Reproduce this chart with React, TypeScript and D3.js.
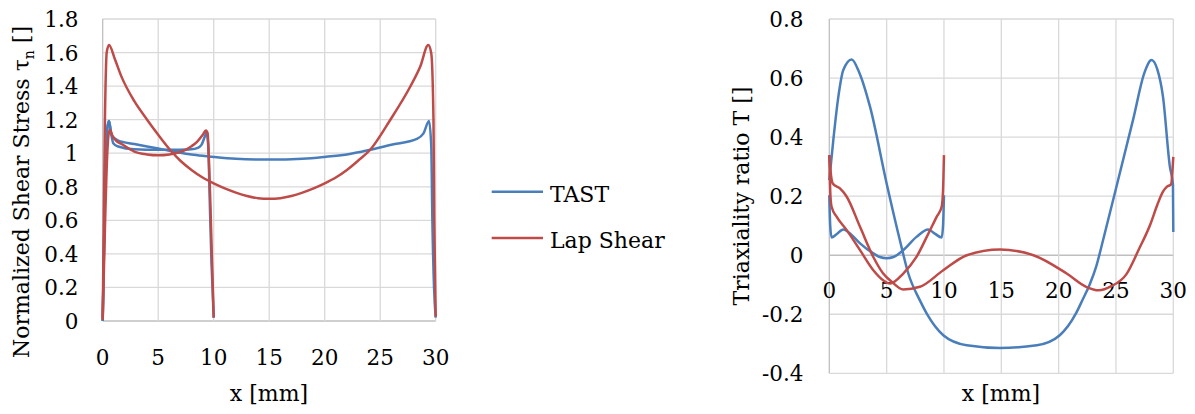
import React from "react";
import * as d3 from "d3";

// ---------- data: Normalized shear stress (left chart) ----------
const shearTast10: [number, number][] = [
  [0, 0], [0.2, 0.75], [0.4, 1.14], [0.57, 1.192], [0.75, 1.12], [0.95, 1.06], [1.4, 1.04],
  [2.85, 1.023], [5, 1.02], [7, 1.02], [8, 1.023], [8.5, 1.03], [8.9, 1.05], [9.2, 1.1],
  [9.35, 1.125], [9.5, 1.05], [9.65, 0.7], [9.8, 0.35], [10, 0.02],
];
const shearTast30: [number, number][] = [
  [0, 0], [0.2, 0.75], [0.4, 1.14], [0.57, 1.192], [0.8, 1.108], [1.4, 1.075], [2.85, 1.055],
  [4, 1.04], [5, 1.028], [6, 1.015], [7, 1.003], [8, 0.993], [9, 0.985], [10, 0.978],
  [12, 0.967], [15, 0.962], [18, 0.967], [20, 0.978], [22, 0.993], [24, 1.019], [26, 1.05],
  [28.3, 1.085], [28.9, 1.118], [29.4, 1.192], [29.6, 1.04], [29.7, 0.6], [29.85, 0.2], [30, 0.02],
];
const shearLap10: [number, number][] = [
  [0, 0.02], [0.2, 0.55], [0.4, 0.98], [0.55, 1.12], [0.66, 1.138], [0.9, 1.1], [1.2, 1.075],
  [1.7, 1.055], [2.85, 1.01], [4, 0.993], [5, 0.988], [6, 0.993], [7, 1.008], [7.5, 1.022],
  [8, 1.042], [8.5, 1.068], [9, 1.108], [9.3, 1.136], [9.45, 1.12], [9.55, 1.0], [9.7, 0.7],
  [9.85, 0.35], [10, 0.02],
];
const shearLap30: [number, number][] = [
  [0, 0.006], [0.2, 1.2], [0.36, 1.6], [0.57, 1.645], [1.1, 1.56], [1.7, 1.455], [2.85, 1.31],
  [4, 1.2], [5, 1.11], [6.2, 1.01], [7, 0.955], [8, 0.9], [9, 0.855], [10, 0.82], [11, 0.79],
  [12, 0.765], [13, 0.745], [14, 0.732], [15, 0.728], [16, 0.732], [17, 0.745], [18, 0.765],
  [19, 0.79], [20, 0.82], [21, 0.855], [22, 0.9], [23, 0.955], [24.08, 1.019], [25.9, 1.198],
  [27.7, 1.396], [28.6, 1.515], [29.33, 1.645], [29.6, 1.595], [29.8, 1.198], [29.87, 0.6],
  [30, 0.026],
];

// ---------- data: Triaxiality ratio (right chart) ----------
const triaxTast10: [number, number][] = [
  [0, 0.203], [0.08, 0.1], [0.2, 0.06], [0.6, 0.07], [1.22, 0.087], [1.9, 0.07], [2.68, 0.04],
  [3.84, 0.006], [4.4, -0.006], [5, -0.01], [5.6, -0.006], [6.45, 0.017], [7.6, 0.062],
  [8.63, 0.087], [9.2, 0.073], [9.8, 0.06], [9.92, 0.1], [10, 0.203],
];
const triaxTast30: [number, number][] = [
  [0, 0.254], [0.35, 0.39], [0.79, 0.537], [1.22, 0.627], [1.95, 0.663], [2.6, 0.62],
  [3.55, 0.503], [5, 0.243], [6.16, 0.05], [6.89, -0.062], [7.9, -0.153], [8.5, -0.198],
  [9.94, -0.271], [11.98, -0.305], [14.9, -0.314], [18.1, -0.305], [20.1, -0.271],
  [21.5, -0.198], [22.1, -0.15], [22.7, -0.1], [23.3, -0.035], [23.9, 0.055], [24.9, 0.21],
  [26.5, 0.46], [27.5, 0.62], [28.1, 0.661], [28.6, 0.63], [29.1, 0.537], [29.7, 0.3],
  [29.97, 0.24], [30, 0.079],
];
const triaxLap10: [number, number][] = [
  [0, 0.339], [0.1, 0.2], [0.2, 0.164], [0.65, 0.13], [1.52, 0.085], [2.68, 0.017],
  [3.84, -0.051], [4.7, -0.085], [5.3, -0.096], [6.45, -0.062], [7.6, -0.006], [8.5, 0.062],
  [9.36, 0.13], [9.8, 0.164], [9.92, 0.22], [10, 0.339],
];
const triaxLap30: [number, number][] = [
  [0, 0.339], [0.15, 0.27], [0.3, 0.243], [0.93, 0.226], [1.52, 0.198], [2.68, 0.096],
  [3.84, -0.006], [4.7, -0.062], [5.44, -0.09], [6.45, -0.116], [7.9, -0.107], [9.94, -0.051],
  [12, 0], [14.9, 0.019], [17.8, 0], [20.7, -0.062], [22.4, -0.107], [23.5, -0.119],
  [24.6, -0.105], [25.9, -0.065], [27.0, 0.02], [28.0, 0.105], [28.6, 0.17], [29.1, 0.215],
  [29.45, 0.232], [29.8, 0.24], [30, 0.333],
];

// ---------- ticks ----------
const xTicks = [0, 5, 10, 15, 20, 25, 30];
const xTickLabels = ["0", "5", "10", "15", "20", "25", "30"];
const shearTicks = [0, 0.2, 0.4, 0.6, 0.8, 1, 1.2, 1.4, 1.6, 1.8];
const shearTickLabels = ["0", "0.2", "0.4", "0.6", "0.8", "1", "1.2", "1.4", "1.6", "1.8"];
const triaxTicks = [-0.4, -0.2, 0, 0.2, 0.4, 0.6, 0.8];
const triaxTickLabels = ["-0.4", "-0.2", "0", "0.2", "0.4", "0.6", "0.8"];
const legendNames = ["TAST", "Lap Shear"];

const BLUE = "#4a7ebb";
const RED = "#be4b48";
const GRID = "#d9d9d9";
const AXIS = "#bfbfbf";
const FONT = "'DejaVu Serif', serif";
const FS = 21.5;

export default function App() {
  const lx = d3.scaleLinear().domain([0, 30]).range([102.7, 435.7]);
  const ly = d3.scaleLinear().domain([0, 1.8]).range([321, 19]);
  const rx = d3.scaleLinear().domain([0, 30]).range([829.3, 1173.3]);
  const ry = d3.scaleLinear().domain([-0.4, 0.8]).range([373.3, 19]);

  const mkLine = (x: d3.ScaleLinear<number, number>, y: d3.ScaleLinear<number, number>) =>
    d3.line<[number, number]>().x((d) => x(d[0])).y((d) => y(d[1])).curve(d3.curveMonotoneX);
  const lLine = mkLine(lx, ly);
  const rLine = mkLine(rx, ry);

  const sw = 2.5;

  return (
    <svg
      width={1195}
      height={414}
      style={{ position: "absolute", left: 0, top: 0, background: "#fff" }}
      fontFamily={FONT}
    >
      <rect x={0} y={0} width={1195} height={414} fill="#fff" />
      {/* ---------- Left chart ---------- */}
      <g>
        {shearTicks.map((t, i) => (
          <line key={"lg" + i} x1={lx(0)} x2={lx(30)} y1={ly(t)} y2={ly(t)} stroke={i === 0 ? AXIS : GRID} strokeWidth={1.3} />
        ))}
        {xTicks.map((t, i) => (
          <line key={"lv" + i} x1={lx(t)} x2={lx(t)} y1={ly(0)} y2={ly(1.8)} stroke={i === 0 ? AXIS : GRID} strokeWidth={1.3} />
        ))}
        {shearTicks.map((t, i) => (
          <text key={"lyt" + i} x={78.5} y={ly(t) + 8} fontSize={FS} textAnchor="end" fill="#000">
            {shearTickLabels[i]}
          </text>
        ))}
        {xTicks.map((t, i) => (
          <text key={"lxt" + i} x={lx(t)} y={ly(0) + 44} fontSize={FS} textAnchor="middle" fill="#000">
            {xTickLabels[i]}
          </text>
        ))}
        <text x={269} y={401} fontSize={22} textAnchor="middle" fill="#000">x [mm]</text>
        <text transform="translate(28.5,192) rotate(-90)" fontSize={22} textAnchor="middle" fill="#000">
          Normalized Shear Stress τ<tspan fontSize={14} dy={5}>n</tspan>
          <tspan dy={-5}> []</tspan>
        </text>
        <path d={lLine(shearTast10) || ""} fill="none" stroke={BLUE} strokeWidth={sw} strokeLinejoin="round" />
        <path d={lLine(shearTast30) || ""} fill="none" stroke={BLUE} strokeWidth={sw} strokeLinejoin="round" />
        <path d={lLine(shearLap10) || ""} fill="none" stroke={RED} strokeWidth={sw} strokeLinejoin="round" />
        <path d={lLine(shearLap30) || ""} fill="none" stroke={RED} strokeWidth={sw} strokeLinejoin="round" />
      </g>

      {/* ---------- Legend ---------- */}
      <g>
        {legendNames.map((n, i) => (
          <g key={"lg" + n}>
            <line x1={491.7} x2={543} y1={191.7 + i * 46.3} y2={191.7 + i * 46.3} stroke={i === 0 ? BLUE : RED} strokeWidth={sw} />
            <text x={550} y={201.7 + i * 46.3} fontSize={22} fill="#000">{n}</text>
          </g>
        ))}
      </g>

      {/* ---------- Right chart ---------- */}
      <g>
        {triaxTicks.map((t, i) => (
          <line key={"rg" + i} x1={rx(0)} x2={rx(30)} y1={ry(t)} y2={ry(t)} stroke={t === 0 ? AXIS : GRID} strokeWidth={t === 0 ? 1.6 : 1.3} />
        ))}
        {xTicks.map((t, i) => (
          <line key={"rv" + i} x1={rx(t)} x2={rx(t)} y1={ry(-0.4)} y2={ry(0.8)} stroke={i === 0 ? AXIS : GRID} strokeWidth={1.3} />
        ))}
        {triaxTicks.map((t, i) => (
          <text key={"ryt" + i} x={803.5} y={ry(t) + 8} fontSize={FS} textAnchor="end" fill="#000">
            {triaxTickLabels[i]}
          </text>
        ))}
        {xTicks.map((t, i) => (
          <text key={"rxt" + i} x={rx(t)} y={ry(0) + 43} fontSize={FS} textAnchor="middle" fill="#000">
            {xTickLabels[i]}
          </text>
        ))}
        <text x={1001} y={401} fontSize={22} textAnchor="middle" fill="#000">x [mm]</text>
        <text transform="translate(748.5,196) rotate(-90)" fontSize={22} textAnchor="middle" fill="#000">
          Triaxiality ratio T []
        </text>
        <path d={rLine(triaxTast10) || ""} fill="none" stroke={BLUE} strokeWidth={sw} strokeLinejoin="round" />
        <path d={rLine(triaxTast30) || ""} fill="none" stroke={BLUE} strokeWidth={sw} strokeLinejoin="round" />
        <path d={rLine(triaxLap10) || ""} fill="none" stroke={RED} strokeWidth={sw} strokeLinejoin="round" />
        <path d={rLine(triaxLap30) || ""} fill="none" stroke={RED} strokeWidth={sw} strokeLinejoin="round" />
      </g>
    </svg>
  );
}
